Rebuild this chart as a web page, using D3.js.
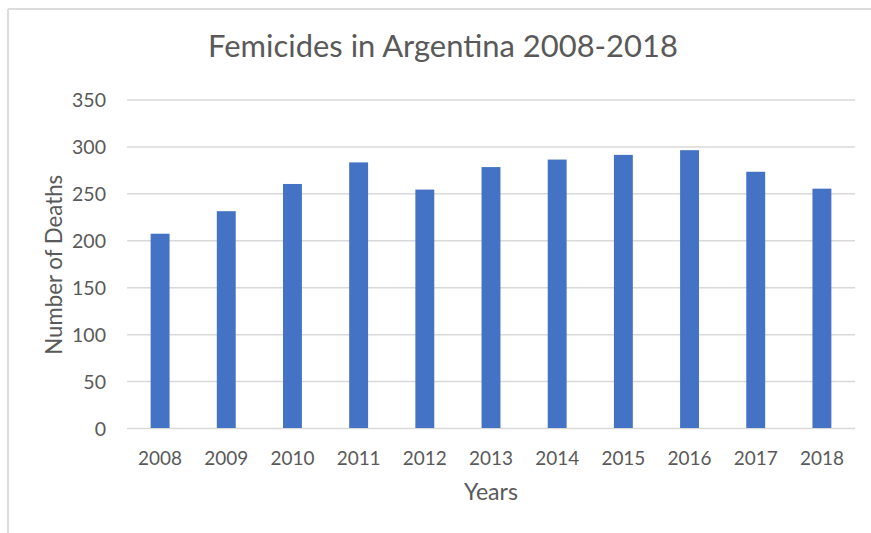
<!DOCTYPE html>
<html>
<head>
<meta charset="utf-8">
<script src="https://cdn.jsdelivr.net/npm/d3@7"></script>
<style>
  html, body { margin: 0; padding: 0; background: #ffffff; }
  svg { display: block; }
  text { font-family: Lato, "Open Sans", "DejaVu Sans", sans-serif; fill: #595959; }
</style>
</head>
<body>
<svg id="chart" width="871" height="533"></svg>
<script>
const chartTitle = "Femicides in Argentina 2008-2018";
const xTitle = "Years";
const yTitle = "Number of Deaths";
const years = ["2008","2009","2010","2011","2012","2013","2014","2015","2016","2017","2018"];
const deaths = [207, 231, 260, 283, 254, 278, 286, 291, 296, 273, 255];
const yTicks = [0, 50, 100, 150, 200, 250, 300, 350];

const W = 871, H = 533;
const plot = { left: 127, right: 855, top: 99.5, bottom: 428 };
const svg = d3.select("#chart");

// chart frame (light border at top and left, as in reference)
svg.append("line").attr("x1", 8).attr("x2", W).attr("y1", 9).attr("y2", 9)
  .attr("stroke", "#dcdcdc").attr("stroke-width", 2);
svg.append("line").attr("x1", 8).attr("x2", 8).attr("y1", 9).attr("y2", H)
  .attr("stroke", "#dcdcdc").attr("stroke-width", 2);

const gap = 2.5;
const p = gap / (1 + gap);
const x = d3.scaleBand().domain(years).range([plot.left, plot.right])
  .paddingInner(p).paddingOuter(p / 2);
const y = d3.scaleLinear().domain([0, 350]).range([plot.bottom, plot.top]);

function fit(sel, target, start) {
  sel.each(function() {
    const t = d3.select(this);
    t.style("font-size", start + "px");
    const len = this.getComputedTextLength();
    if (len > 0) t.style("font-size", (start * target / len) + "px");
  });
}

// y axis with gridlines
const yAxis = d3.axisLeft(y).tickValues(yTicks)
  .tickSizeInner(-(plot.right - plot.left)).tickSizeOuter(0).tickPadding(21);
const gy = svg.append("g").attr("transform", `translate(${plot.left},0)`).call(yAxis);
gy.select(".domain").remove();
gy.selectAll(".tick line").attr("stroke", "#d9d9d9").attr("stroke-width", 1.5);
gy.selectAll(".tick text").attr("fill", "#595959").attr("font-family", null)
  .attr("font-size", null).attr("dy", "0.36em");
fit(gy.selectAll(".tick text").filter(d => d === 350), 34, 19);
const yFs = gy.selectAll(".tick text").filter(d => d === 350).style("font-size");
gy.selectAll(".tick text").style("font-size", yFs);

// bars
svg.append("g").selectAll("rect").data(years).join("rect")
  .attr("x", d => x(d))
  .attr("width", x.bandwidth())
  .attr("y", (d, i) => y(deaths[i]))
  .attr("height", (d, i) => y(0) - y(deaths[i]))
  .attr("fill", "#4472c4");

// x axis
const xAxis = d3.axisBottom(x).tickSize(0).tickPadding(0);
const gx = svg.append("g").attr("transform", `translate(0,${plot.bottom})`).call(xAxis);
gx.select(".domain").remove();
gx.selectAll(".tick text").attr("fill", "#595959").attr("font-family", null)
  .attr("font-size", null).attr("y", 37).attr("dy", 0);
fit(gx.selectAll(".tick text").filter(d => d === "2008"), 44, 19);
const xFs = gx.selectAll(".tick text").filter(d => d === "2008").style("font-size");
gx.selectAll(".tick text").style("font-size", xFs);

// title
const title = svg.append("text").attr("x", 443).attr("y", 56.5)
  .attr("text-anchor", "middle").text(chartTitle);
fit(title, 470, 30);

// axis titles
const xt = svg.append("text").attr("x", (plot.left + plot.right) / 2).attr("y", 500)
  .attr("text-anchor", "middle").text(xTitle);
fit(xt, 54, 22);

const yt = svg.append("text")
  .attr("transform", `translate(62,${(plot.top + plot.bottom) / 2 + 1}) rotate(-90)`)
  .attr("text-anchor", "middle").text(yTitle);
fit(yt, 180, 22);
</script>
</body>
</html>
